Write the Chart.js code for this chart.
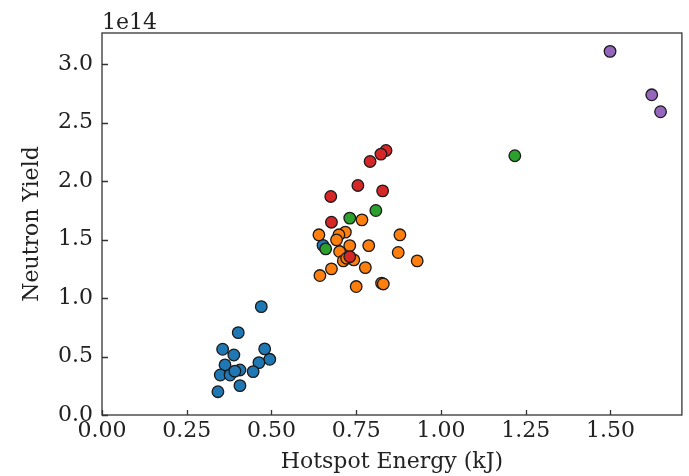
<!DOCTYPE html>
<html>
<head>
<meta charset="utf-8">
<script src="https://cdn.jsdelivr.net/npm/chart.js@4"></script>
<style>
  html, body { margin: 0; padding: 0; background: #fff; }
  #wrap { width: 689px; height: 476px; }
</style>
</head>
<body>
<div id="wrap"><canvas id="c" width="689" height="476"></canvas></div>
<script>
// Hotspot energy (kJ) and neutron yield (units of 1e14), one pair of arrays per group
const blueEnergy   = [0.652, 0.470, 0.402, 0.356, 0.480, 0.389, 0.495, 0.463, 0.363, 0.407, 0.446, 0.349, 0.378, 0.392, 0.407, 0.342];
const blueYield    = [1.450, 0.926, 0.704, 0.562, 0.565, 0.513, 0.476, 0.448, 0.428, 0.385, 0.371, 0.342, 0.342, 0.375, 0.251, 0.199];
const orangeEnergy = [0.767, 0.640, 0.718, 0.699, 0.692, 0.879, 0.787, 0.731, 0.701, 0.874, 0.712, 0.743, 0.930, 0.777, 0.677, 0.643, 0.750, 0.825, 0.830, 0.722];
const orangeYield  = [1.668, 1.540, 1.563, 1.540, 1.497, 1.540, 1.448, 1.448, 1.397, 1.389, 1.317, 1.326, 1.317, 1.260, 1.249, 1.192, 1.098, 1.127, 1.120, 1.340];
const greenEnergy  = [1.218, 0.808, 0.731, 0.660];
const greenYield   = [2.216, 1.748, 1.683, 1.420];
const redEnergy    = [0.838, 0.823, 0.791, 0.755, 0.828, 0.675, 0.677, 0.731];
const redYield     = [2.261, 2.230, 2.167, 1.962, 1.916, 1.868, 1.648, 1.354];
const purpleEnergy = [1.499, 1.622, 1.648];
const purpleYield  = [3.108, 2.737, 2.592];

const xTicks = [0, 0.25, 0.5, 0.75, 1.0, 1.25, 1.5];
const yTicks = [0, 0.5, 1.0, 1.5, 2.0, 2.5, 3.0];
const xLabel = 'Hotspot Energy (kJ)';
const yLabel = 'Neutron Yield';
const yExponent = '1e14';

const FONT = "'DejaVu Serif', serif";
const FS = 22;
const SPINE = '#333333';

function pts(xs, ys) { return xs.map((x, i) => ({ x: x, y: ys[i] })); }
function ds(xs, ys, color) {
  return {
    data: pts(xs, ys),
    backgroundColor: color,
    borderColor: '#1a1a1a',
    borderWidth: 1.3,
    pointRadius: 5.8,
    pointHoverRadius: 5.8
  };
}

const frame = {
  id: 'frame',
  afterDraw(chart) {
    const ctx = chart.ctx;
    const a = chart.chartArea;
    const xs = chart.scales.x, ys = chart.scales.y;
    ctx.save();
    ctx.strokeStyle = SPINE;
    ctx.lineWidth = 1.3;
    ctx.strokeRect(a.left, a.top, a.right - a.left, a.bottom - a.top);
    ctx.beginPath();
    xTicks.forEach(v => {
      const p = Math.round(xs.getPixelForValue(v)) + 0.5;
      ctx.moveTo(p, a.bottom); ctx.lineTo(p, a.bottom - 5);
    });
    yTicks.forEach(v => {
      const p = Math.round(ys.getPixelForValue(v)) + 0.5;
      ctx.moveTo(a.left, p); ctx.lineTo(a.left + 6, p);
    });
    ctx.stroke();
    ctx.fillStyle = '#222';
    ctx.font = FS + 'px ' + FONT;
    ctx.textAlign = 'left';
    ctx.textBaseline = 'alphabetic';
    ctx.fillText(yExponent, a.left, a.top - 4);
    ctx.restore();
  }
};

// Chart.js paints dataset 0 last (on top): list from top layer to bottom layer
new Chart(document.getElementById('c'), {
  type: 'scatter',
  data: {
    datasets: [
      ds(purpleEnergy, purpleYield, '#9467bd'),
      ds(redEnergy, redYield, '#d62728'),
      ds(greenEnergy, greenYield, '#2ca02c'),
      ds(orangeEnergy, orangeYield, '#ff7f0e'),
      ds(blueEnergy, blueYield, '#1f77b4')
    ]
  },
  options: {
    responsive: false,
    animation: false,
    layout: { padding: { left: 0, right: 1, top: 33, bottom: 0 } },
    plugins: { legend: { display: false }, tooltip: { enabled: false } },
    scales: {
      x: {
        type: 'linear',
        min: 0,
        max: 1.711,
        afterBuildTicks: s => { s.ticks = xTicks.map(v => ({ value: v })); },
        afterFit: s => { s.height = 61; },
        grid: { display: false, drawTicks: false },
        border: { display: false },
        ticks: {
          padding: 3,
          color: '#222',
          font: { family: FONT, size: FS },
          maxRotation: 0,
          autoSkip: false,
          callback: v => Number(v).toFixed(2)
        },
        title: {
          display: true,
          text: xLabel,
          color: '#222',
          font: { family: FONT, size: FS },
          padding: { top: 0, bottom: 1 }
        }
      },
      y: {
        type: 'linear',
        min: 0,
        max: 3.265,
        afterBuildTicks: s => { s.ticks = yTicks.map(v => ({ value: v })); },
        afterFit: s => { s.width = 102; },
        grid: { display: false, drawTicks: false },
        border: { display: false },
        ticks: {
          padding: 9,
          color: '#222',
          font: { family: FONT, size: FS },
          autoSkip: false,
          callback: v => Number(v).toFixed(1)
        },
        title: {
          display: true,
          text: yLabel,
          color: '#222',
          font: { family: FONT, size: FS },
          padding: { top: 19, bottom: 0 }
        }
      }
    }
  },
  plugins: [frame]
});
</script>
</body>
</html>
